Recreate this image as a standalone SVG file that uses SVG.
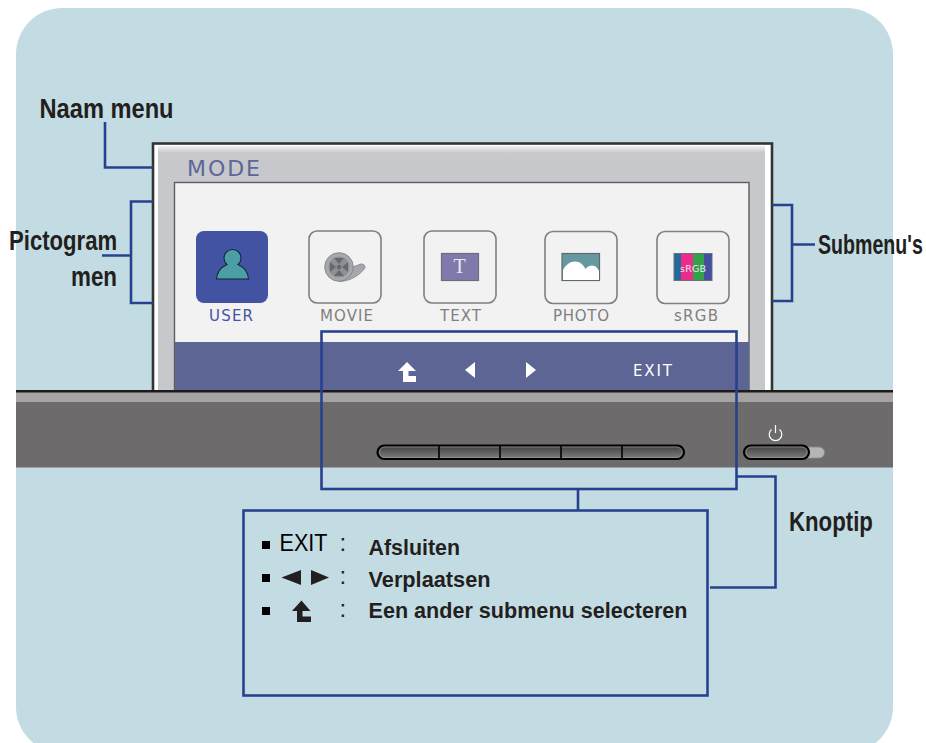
<svg xmlns="http://www.w3.org/2000/svg" width="926" height="743" viewBox="0 0 926 743">
<style>
.lbl{font-family:"Liberation Sans",Arial,sans-serif;font-weight:bold;fill:#231f20}
.big{font-size:28px}
.cap{font-family:"DejaVu Sans",Verdana,sans-serif;font-size:15px;fill:#7f7f7f}
.colon{font-family:"Liberation Sans",Arial,sans-serif;font-size:24px;fill:#231f20}
.conn{fill:none;stroke:#27418f;stroke-width:2.6}
.tile{fill:#f2f2f2;stroke:#7f7f7f;stroke-width:1.6}
.dark{fill:#231f20}
.white{fill:#fff}
.btn{fill:url(#btnGrad);stroke:#000;stroke-width:2.2}
.rim{fill:none;stroke:#9a9a9a;stroke-width:0.7}
</style>
<defs>
<linearGradient id="btnGrad" x1="0" y1="0" x2="0" y2="1"><stop offset="0" stop-color="#3f3f3f"/><stop offset="1" stop-color="#808080"/></linearGradient>
<linearGradient id="topGrad" x1="0" y1="0" x2="0" y2="1"><stop offset="0" stop-color="#f0f0f2"/><stop offset="1" stop-color="#c7c8cb"/></linearGradient>
</defs>
<rect id="background" x="16" y="8" width="877" height="745" rx="46" fill="#c3dce3"/>
<g id="monitor">
<rect x="153" y="143.500" width="619" height="250" fill="#fff" stroke="#333" stroke-width="2.600"/>
<rect x="158" y="146" width="607" height="245" fill="#c7c8cb"/>
<rect x="158" y="146" width="607" height="7" fill="url(#topGrad)"/>
<rect x="174.500" y="182.500" width="574.500" height="209" fill="#f2f2f2" stroke="#5f5d5d" stroke-width="1.400"/>
<rect x="175" y="342" width="574" height="48" fill="#5d6595"/>
<text x="187" y="176" font-family="'DejaVu Sans',Verdana,sans-serif" font-size="22" fill="#5d6699" textLength="73" lengthAdjust="spacing">MODE</text>
</g>
<g id="user">
<rect x="196" y="231" width="72" height="72" rx="8" fill="#4353a3"/>
<path d="M216.500 279 C217 271.500 221.500 267 227 264.500 A8.500 8.500 0 1 1 238 264.500 C243.500 267 248 271.500 248.500 279 Z" fill="#4b9ea3" stroke="#14233b" stroke-width="1.100"/>
<text class="cap" x="209" y="321" style="fill:#4353a3" textLength="44">USER</text>
</g>
<g id="movie">
<rect class="tile" x="309" y="231" width="72" height="72" rx="8"/>
<path d="M339 281.500 C349 281.500 359 276 365 268 C365.500 266 363.500 263.500 361 264 L350 268 L339 262 Z" fill="#a5a8ad" stroke="#8a8a8a" stroke-width="0.900"/>
<circle cx="339" cy="267" r="14.300" fill="#a5a8ad" stroke="#8a8a8a" stroke-width="1"/>
<circle cx="339" cy="267" r="10.500" fill="#8e9094"/>
<circle cx="339" cy="267" r="2.300" fill="#66686c"/>
<path d="M334 258 h10 l-5 6z M334 276 h10 l-5 -6z M330 262 v10 l6 -5z M348 262 v10 l-6 -5z" fill="#66686c"/>
<text class="cap" x="320" y="321" textLength="53">MOVIE</text>
</g>
<g id="text">
<rect class="tile" x="424" y="231" width="72" height="72" rx="8"/>
<rect x="441.500" y="253.500" width="37" height="27" fill="#8079ac" stroke="#6b6f78" stroke-width="1.200"/>
<text x="459.500" y="273" text-anchor="middle" font-family="'Liberation Serif',serif" font-size="20" fill="#e8e8f0">T</text>
<text class="cap" x="440" y="321" textLength="41">TEXT</text>
</g>
<g id="photo">
<rect class="tile" x="545" y="231.500" width="72" height="72" rx="8"/>
<rect x="562" y="253.500" width="37.500" height="27" fill="#65989f" stroke="#5e6a70" stroke-width="1.200"/>
<path d="M563 280 V270 C566 264.500 570 261.500 575 261.500 C580 261.500 583.500 265 585.500 269 C587 266.500 590 265.500 592 265.500 C595.500 265.500 598 268.500 599 271 V280 Z" fill="#fff"/>
<text class="cap" x="553" y="321" textLength="56">PHOTO</text>
</g>
<g id="srgb">
<rect class="tile" x="657" y="231.500" width="72" height="72" rx="8"/>
<rect x="674" y="253.500" width="38" height="27" fill="#226a9a" stroke="#6b7078" stroke-width="1"/>
<rect x="681" y="254" width="12" height="26" fill="#ec2b8c"/>
<rect x="693" y="254" width="11" height="26" fill="#33a04a"/>
<rect x="704" y="254" width="7.500" height="26" fill="#434f9e"/>
<text x="680" y="272" font-family="'DejaVu Sans',sans-serif" font-size="9.500" fill="#e8eef0" textLength="26">sRGB</text>
<text class="cap" x="674" y="321" textLength="44">sRGB</text>
</g>
<g id="softkeys">
<path class="white" d="M407 362 L416 371 H408.500 V376 H416 V382 H403 V371 H398 Z"/>
<path class="white" d="M475 362 V378 L465 370 Z"/>
<path class="white" d="M526 362 V378 L536 370 Z"/>
<text x="633" y="376" font-family="'DejaVu Sans',Verdana,sans-serif" font-size="15" fill="#fff" textLength="39">EXIT</text>
</g>
<g id="bezel">
<rect x="16" y="390" width="877" height="13" fill="#a5a3a3"/>
<rect x="16" y="390" width="877" height="2.500" fill="#1e1a1a"/>
<rect x="16" y="402" width="877" height="65.500" fill="#6d6b6b"/>
</g>
<g id="buttons">
<rect x="800" y="447" width="24.500" height="11" rx="5.500" fill="#b5b5b5" stroke="#8a8a8a" stroke-width="0.800"/>
<rect class="btn" x="377.500" y="445.500" width="306.500" height="13.500" rx="6.750"/>
<rect class="rim" x="379.500" y="447" width="302.500" height="10.500" rx="5.250"/>
<path d="M439 445 V459 M500 445 V459 M561 445 V459 M622 445 V459" stroke="#000" stroke-width="1.600"/>
<rect class="btn" x="744" y="445.500" width="65" height="13.500" rx="6.750"/>
<rect class="rim" x="746" y="447" width="61" height="10.500" rx="5.250"/>
<path d="M775.500 425 V433 M771.500 429.500 A6.300 6.300 0 1 0 779.500 429.500" fill="none" stroke="#fff" stroke-width="1.200"/>
</g>
<g id="connectors">
<path class="conn" d="M105 122 V167.500 H153"/>
<path class="conn" d="M153 201.500 H131 V303 H153 M102 255.500 H131"/>
<path class="conn" d="M772 205 H792 V301 H772 M792 244.500 H815"/>
<rect class="conn" x="321.500" y="331.500" width="415" height="157.500"/>
<path class="conn" d="M578 489 V510"/>
<path class="conn" d="M737 476.500 H775.500 V587.500 H710"/>
</g>
<g id="legend">
<rect class="conn" x="243.500" y="510.500" width="464" height="185"/>
<rect x="262" y="541" width="8" height="8" fill="#000"/>
<rect x="262" y="574" width="8" height="8" fill="#000"/>
<rect x="262" y="607" width="8" height="8" fill="#000"/>
<text x="279.500" y="551" font-family="'Liberation Sans',Arial,sans-serif" font-size="23" fill="#000" textLength="48" lengthAdjust="spacingAndGlyphs">EXIT</text>
<text class="colon" x="339.500" y="551">:</text>
<text class="colon" x="339.500" y="584">:</text>
<text class="colon" x="339.500" y="617">:</text>
<path class="dark" d="M301 570 V585 L281.500 577.500 Z M311 570 V585 L329 577.500 Z"/>
<path class="dark" d="M301.500 600.500 L310.500 611 H302.500 V616.500 H311 V622 H297 V611 H292 Z"/>
<text class="lbl" x="368.500" y="555" font-size="22.500" textLength="91.500" lengthAdjust="spacingAndGlyphs">Afsluiten</text>
<text class="lbl" x="368.500" y="587" font-size="22.500" textLength="122" lengthAdjust="spacingAndGlyphs">Verplaatsen</text>
<text class="lbl" x="368.500" y="618" font-size="22.500" textLength="319" lengthAdjust="spacingAndGlyphs">Een ander submenu selecteren</text>
</g>
<g id="labels">
<text class="lbl big" transform="translate(39.500 118) scale(.845 1)">Naam menu</text>
<text class="lbl big" transform="translate(9 250) scale(.79 1)">Pictogram</text>
<text class="lbl big" transform="translate(71 286) scale(.8 1)">men</text>
<text class="lbl big" transform="translate(818 254) scale(.7 1)">Submenu's</text>
<text class="lbl big" transform="translate(789 531) scale(.794 1)">Knoptip</text>
</g>
</svg>
